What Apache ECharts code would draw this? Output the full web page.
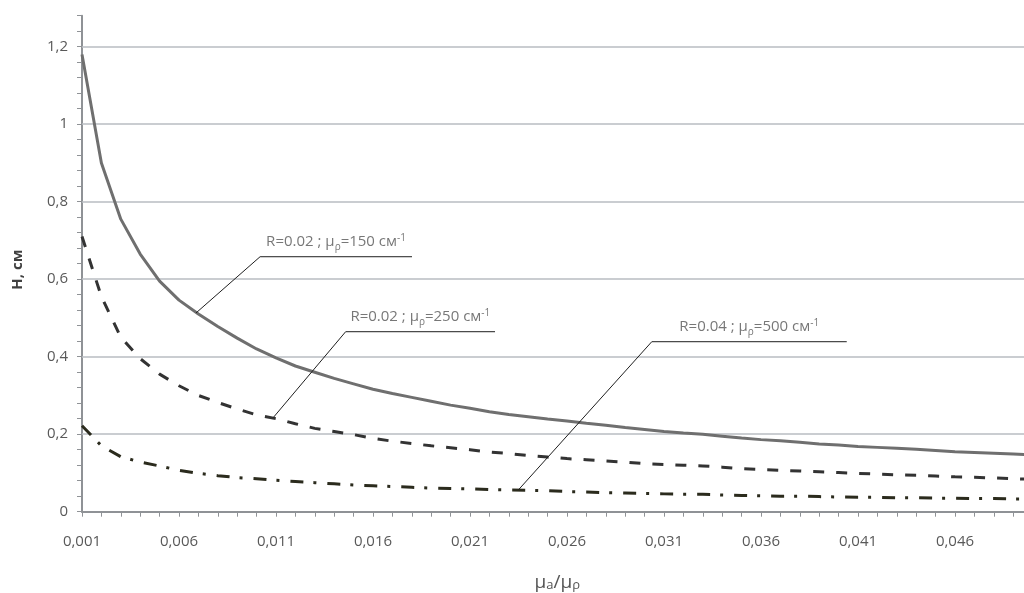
<!DOCTYPE html>
<html>
<head>
<meta charset="utf-8">
<script src="https://cdn.jsdelivr.net/npm/echarts@6/dist/echarts.min.js"></script>
<style>
  html, body { margin: 0; padding: 0; background: #fff; }
  #chart { width: 1024px; height: 593px; }
</style>
</head>
<body>
<div id="chart"></div>
<script>
// Categories on x (μa/μρ)
const categories = [
    '0,001', '0,002', '0,003', '0,004', '0,005', '0,006', '0,007', '0,008', '0,009', '0,010',
    '0,011', '0,012', '0,013', '0,014', '0,015', '0,016', '0,017', '0,018', '0,019', '0,020',
    '0,021', '0,022', '0,023', '0,024', '0,025', '0,026', '0,027', '0,028', '0,029', '0,030',
    '0,031', '0,032', '0,033', '0,034', '0,035', '0,036', '0,037', '0,038', '0,039', '0,040',
    '0,041', '0,042', '0,043', '0,044', '0,045', '0,046', '0,047', '0,048', '0,049', '0,050'
];

// H, см  -- R=0.02 ; μρ=150
const h150 = [
    1.18, 0.90, 0.755, 0.665, 0.595, 0.546, 0.510, 0.478, 0.448, 0.420,
    0.397, 0.376, 0.360, 0.344, 0.330, 0.316, 0.305, 0.295, 0.285, 0.275,
    0.267, 0.258, 0.251, 0.245, 0.239, 0.234, 0.228, 0.223, 0.217, 0.212,
    0.207, 0.203, 0.200, 0.195, 0.190, 0.186, 0.183, 0.179, 0.175, 0.172,
    0.168, 0.166, 0.164, 0.161, 0.158, 0.155, 0.153, 0.151, 0.149, 0.146
];

// R=0.02 ; μρ=250
const h250 = [
    0.71, 0.555, 0.45, 0.395, 0.355, 0.325, 0.300, 0.282, 0.265, 0.250,
    0.240, 0.227, 0.215, 0.207, 0.199, 0.189, 0.182, 0.176, 0.170, 0.165,
    0.160, 0.154, 0.150, 0.145, 0.141, 0.137, 0.134, 0.131, 0.128, 0.124,
    0.122, 0.120, 0.118, 0.115, 0.111, 0.109, 0.107, 0.105, 0.103, 0.101,
    0.099, 0.097, 0.095, 0.094, 0.092, 0.090, 0.089, 0.087, 0.085, 0.084
];

// R=0.04 ; μρ=500
const h500 = [
    0.222, 0.170, 0.142, 0.128, 0.118, 0.107, 0.099, 0.093, 0.088, 0.085,
    0.081, 0.078, 0.075, 0.072, 0.069, 0.067, 0.065, 0.063, 0.061, 0.060,
    0.059, 0.057, 0.056, 0.055, 0.054, 0.052, 0.051, 0.049, 0.048, 0.047,
    0.046, 0.045, 0.045, 0.043, 0.042, 0.041, 0.040, 0.040, 0.039, 0.038,
    0.037, 0.037, 0.036, 0.036, 0.035, 0.035, 0.034, 0.034, 0.033, 0.033
];

// y gridlines (labelled ticks)
const yTicks = [0.2, 0.4, 0.6, 0.8, 1.0, 1.2];

// leader lines for the curve captions, in data units (x = μa/μρ, y = H)
const captions = [
    { text: 'R=0.02 ; μ{s|ρ}=150 см{u|-1}', path: [[0.00688, 0.513], [0.01018, 0.658], [0.01801, 0.658]] },
    { text: 'R=0.02 ; μ{s|ρ}=250 см{u|-1}', path: [[0.01086, 0.243], [0.01459, 0.4645], [0.02229, 0.4645]] },
    { text: 'R=0.04 ; μ{s|ρ}=500 см{u|-1}', path: [[0.02349, 0.056], [0.03037, 0.4387], [0.04042, 0.4387]] }
];

const FONT = '"Open Sans", "Liberation Sans", sans-serif';
const chart = echarts.init(document.getElementById('chart'));

const subRich = {
    s: { fontSize: 10, color: '#555', fontFamily: FONT, verticalAlign: 'bottom' },
    u: { fontSize: 10, color: '#555', fontFamily: FONT, verticalAlign: 'top' }
};

const series = [
    {
        name: 'R=0.02 ; μρ=150',
        type: 'line',
        data: h150,
        symbol: 'none',
        z: 3,
        lineStyle: { color: '#6f6f6f', width: 3 },
        markLine: {
            silent: true,
            z: 1,
            symbol: 'none',
            animation: false,
            label: { show: false },
            lineStyle: { color: '#b9bdc2', width: 1.5, type: 'solid' },
            data: yTicks.map(v => ({ yAxis: v }))
        }
    },
    {
        name: 'R=0.02 ; μρ=250',
        type: 'line',
        data: h250,
        symbol: 'none',
        z: 3,
        lineStyle: { color: '#333333', width: 3, type: [11, 12] }
    },
    {
        name: 'R=0.04 ; μρ=500',
        type: 'line',
        data: h500,
        symbol: 'none',
        z: 3,
        lineStyle: { color: '#2b2b1d', width: 3, type: [13, 10, 3, 11] }
    }
];

captions.forEach(function(c) {
    // leader line
    series.push({
        type: 'line',
        xAxisIndex: 1,
        data: c.path,
        symbol: 'none',
        silent: true,
        z: 4,
        lineStyle: { color: '#1e1e1e', width: 1 }
    });
    // caption text above the horizontal part
    const a = c.path[1], b = c.path[2];
    series.push({
        type: 'scatter',
        xAxisIndex: 1,
        symbolSize: 0,
        silent: true,
        z: 4,
        data: [[(a[0] + b[0]) / 2, a[1]]],
        label: {
            show: true,
            position: 'top',
            distance: 5,
            formatter: c.text,
            color: '#555',
            fontSize: 15,
            lineHeight: 19,
            fontFamily: FONT,
            rich: subRich
        }
    });
});

chart.setOption({
    animation: false,
    grid: { left: 82, right: -8.6, top: 15.7, bottom: 81.3, outerBoundsMode: 'none' },
    xAxis: [
        {
            type: 'category',
            data: categories,
            boundaryGap: false,
            name: 'μ{s|a}/μ{s|ρ}',
            nameLocation: 'middle',
            nameGap: 61,
            nameTextStyle: {
                fontSize: 19, color: '#555', fontFamily: FONT,
                rich: {
                    s: { fontSize: 13, color: '#555', fontFamily: FONT, verticalAlign: 'bottom' }
                }
            },
            axisLine: { lineStyle: { color: '#8f9296', width: 2 } },
            axisTick: { show: true, interval: 0, length: 5, lineStyle: { color: '#8f9296', width: 1 } },
            axisLabel: { interval: 4, margin: 23, fontSize: 15, color: '#595959', fontFamily: FONT },
            splitLine: { show: false }
        },
        {
            type: 'value',
            min: 0.001,
            max: 0.050,
            show: false
        }
    ],
    yAxis: {
        type: 'value',
        min: 0,
        max: 1.28,
        interval: 0.04,
        name: 'Н, см',
        nameLocation: 'middle',
        nameGap: 57,
        nameTextStyle: { fontSize: 15, fontWeight: 'bold', color: '#404040', fontFamily: FONT, padding: [0, 12, 0, 0] },
        axisLine: { show: true, lineStyle: { color: '#8f9296', width: 2 } },
        axisTick: { show: true, length: 5, lineStyle: { color: '#8f9296', width: 1 } },
        axisLabel: {
            margin: 14,
            fontSize: 15,
            color: '#595959',
            fontFamily: FONT,
            formatter: function(v) {
                const k = Math.round(v / 0.04);
                if (k % 5 !== 0 || k > 30) return '';
                return String(Math.round(v * 10) / 10).replace('.', ',');
            }
        },
        splitLine: { show: false }
    },
    series: series
});

window.addEventListener('resize', function() {
    chart.resize();
});
</script>
</body>
</html>
